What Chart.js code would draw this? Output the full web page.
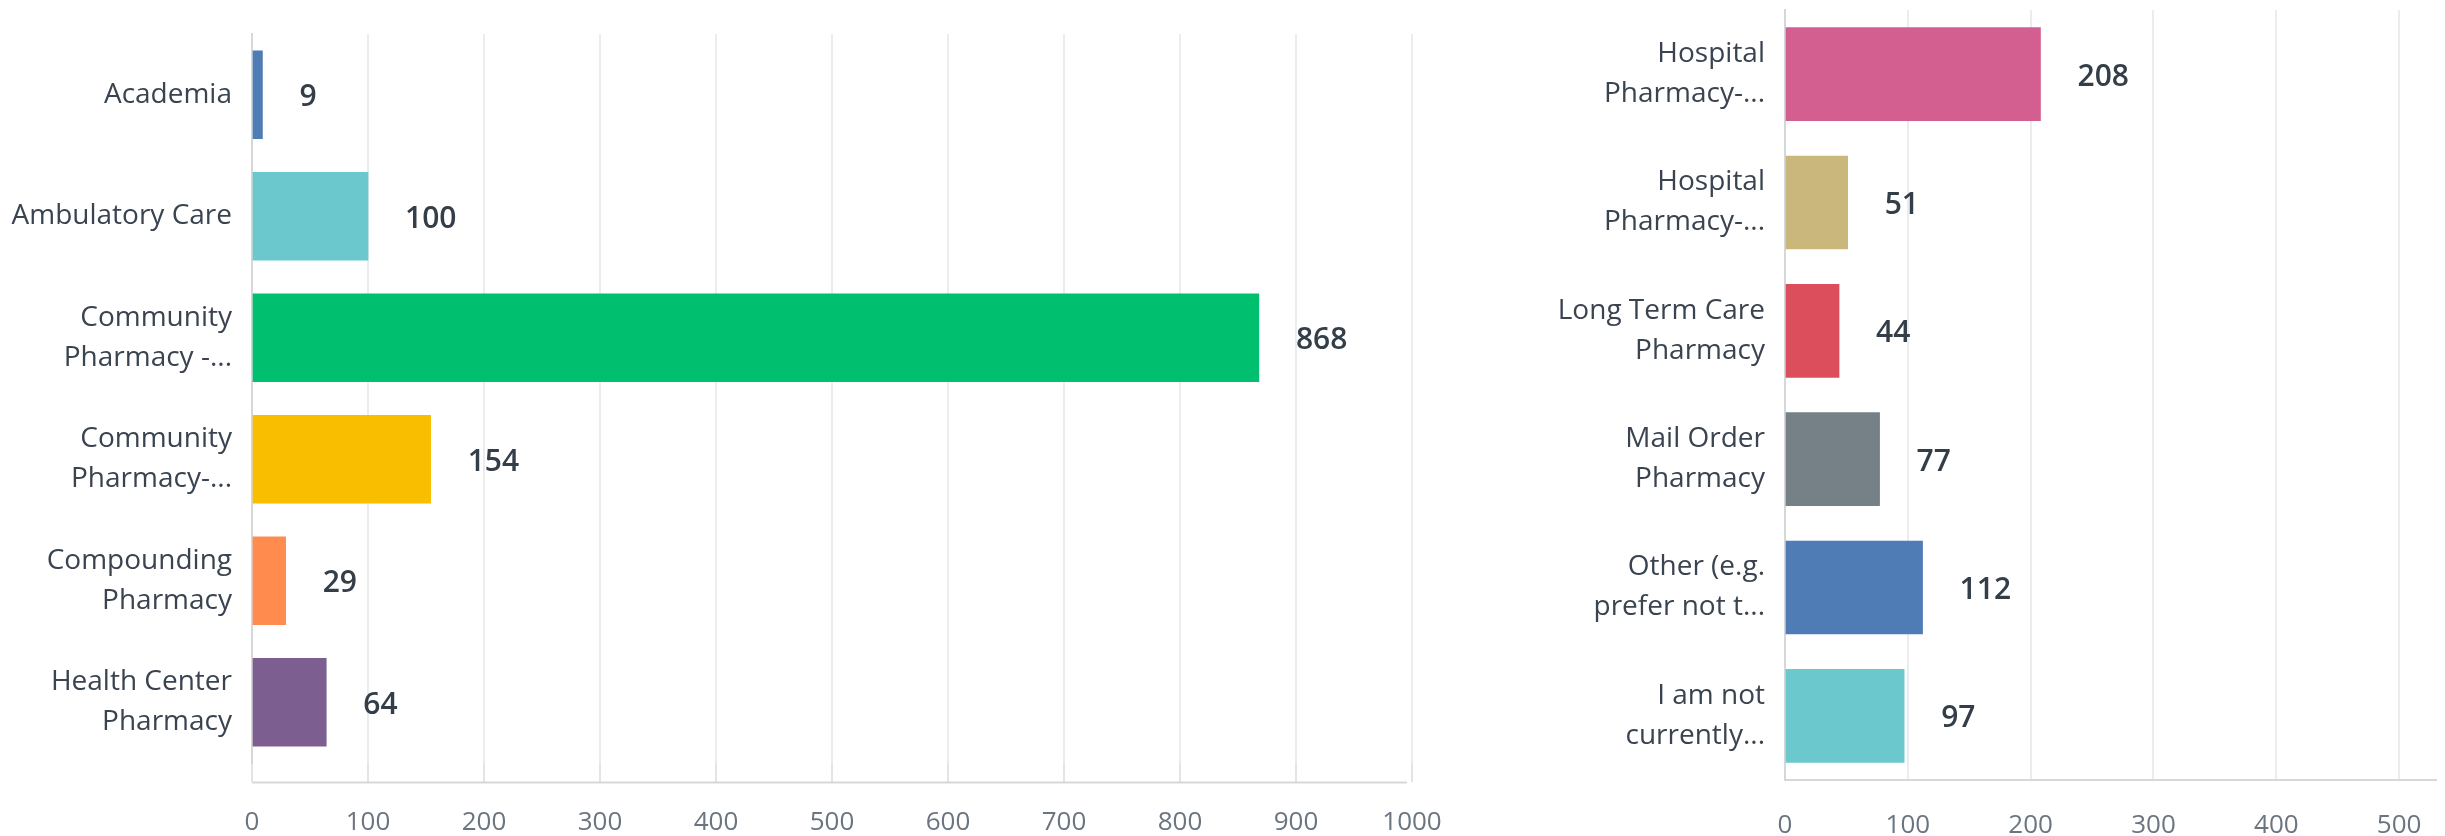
<!doctype html>
<html lang="en">
  <head>
    <meta charset="UTF-8">
    <title>Practice setting</title>
    <style>
      body { margin:0; background:#fff; width:2445px; height:836px; overflow:hidden; }
      canvas { position:absolute; top:0; }
    </style>
  </head>
  <body>
    <canvas id="left-chart" width="1460" height="836" style="left:0px"></canvas>
    <canvas id="right-chart" width="945" height="836" style="left:1500px"></canvas>

    <script src="https://cdn.jsdelivr.net/npm/chart.js@4.4.0/dist/chart.umd.min.js"></script>
    <script>
      // left panel
      var leftLabels = ["Academia", "Ambulatory Care", ["Community", "Pharmacy -..."], ["Community", "Pharmacy-..."], ["Compounding", "Pharmacy"], ["Health Center", "Pharmacy"]];
      var leftValues = [9, 100, 868, 154, 29, 64];
      var leftColors = ["#507cb6", "#6bc8cd", "#00bf6f", "#f9be00", "#ff8b4f", "#7d5e90"];
      var leftTicks = [0, 100, 200, 300, 400, 500, 600, 700, 800, 900, 1000];

      // right panel
      var rightLabels = [["Hospital", "Pharmacy-..."], ["Hospital", "Pharmacy-..."], ["Long Term Care", "Pharmacy"], ["Mail Order", "Pharmacy"], ["Other (e.g.", "prefer not t..."], ["I am not", "currently..."]];
      var rightValues = [208, 51, 44, 77, 112, 97];
      var rightColors = ["#d25f90", "#c9b77c", "#dc4e5b", "#768087", "#507cb6", "#6bc8cd"];
      var rightTicks = [0, 100, 200, 300, 400, 500];

      var FONT = "'Open Sans', 'DejaVu Sans', sans-serif";

      var valueLabels = {
        id: 'valueLabels',
        afterDatasetsDraw: function(chart) {
          var ctx = chart.ctx;
          var meta = chart.getDatasetMeta(0);
          var data = chart.data.datasets[0].data;
          ctx.save();
          ctx.font = "600 30px " + FONT;
          ctx.fillStyle = "#333e48";
          ctx.textAlign = "left";
          ctx.textBaseline = "middle";
          meta.data.forEach(function(bar, i) {
            ctx.fillText(String(data[i]), bar.x + 37, bar.y + 3);
          });
          ctx.restore();
        }
      };

      // the left chart has its x axis line set a little below the plot
      var offsetAxisLine = {
        id: 'offsetAxisLine',
        afterDraw: function(chart, args, opts) {
          if (!opts.gap) return;
          var x = chart.scales.x;
          var y = chart.chartArea.bottom + opts.gap + 0.5;
          var ctx = chart.ctx;
          ctx.save();
          ctx.strokeStyle = "#d5d7d9";
          ctx.lineWidth = 2;
          ctx.beginPath();
          ctx.moveTo(x.left, y);
          ctx.lineTo(x.right - 5, y);
          ctx.stroke();
          ctx.restore();
        }
      };

      function makeChart(id, labels, values, colors, ticks, cfg) {
        return new Chart(document.getElementById(id), {
          type: 'bar',
          data: {
            labels: labels,
            datasets: [{
              data: values,
              backgroundColor: colors,
              borderWidth: 0,
              barThickness: cfg.barThickness
            }]
          },
          plugins: [valueLabels, offsetAxisLine],
          options: {
            indexAxis: 'y',
            responsive: false,
            animation: false,
            layout: { padding: { top: cfg.top, right: cfg.right, bottom: 0, left: 0 } },
            scales: {
              x: {
                min: 0,
                max: cfg.max,
                afterBuildTicks: function(scale) {
                  scale.ticks = ticks.map(function(v) { return { value: v }; });
                },
                afterFit: function(scale) {
                  scale.height = cfg.xHeight;
                  scale.paddingLeft = 0;
                  scale.paddingRight = 0;
                },
                grid: {
                  color: "#ebecee",
                  lineWidth: 2,
                  drawTicks: cfg.tickLength > 0,
                  tickLength: cfg.tickLength,
                  tickColor: "#e3e4e6"
                },
                border: { display: cfg.tickLength === 0, color: "#d5d7d9", width: 2 },
                ticks: {
                  autoSkip: false,
                  maxRotation: 0,
                  padding: cfg.tickPad,
                  color: "#6b7580",
                  font: { family: FONT, size: 26 },
                  callback: function(v) { return String(v); }
                }
              },
              y: {
                afterFit: function(scale) {
                  scale.width = cfg.yWidth;
                  scale.paddingTop = 0;
                  scale.paddingBottom = 0;
                },
                grid: { display: false, drawTicks: false },
                border: { display: true, color: "#d5d7d9", width: 2 },
                ticks: {
                  padding: 20,
                  color: "#3a4450",
                  font: { family: FONT, size: 28, lineHeight: 1.43 }
                }
              }
            },
            plugins: {
              legend: { display: false },
              tooltip: { enabled: false },
              offsetAxisLine: { gap: cfg.tickLength }
            }
          }
        });
      }

      makeChart('left-chart', leftLabels, leftValues, leftColors, leftTicks, {
        max: 1000, top: 34, right: 48, yWidth: 252, xHeight: 73,
        tickLength: 19, tickPad: 25, barThickness: 88
      });

      makeChart('right-chart', rightLabels, rightValues, rightColors, rightTicks, {
        max: 530, top: 10, right: 9, yWidth: 285, xHeight: 56,
        tickLength: 0, tickPad: 30, barThickness: 93
      });
    </script>
  </body>
</html>
